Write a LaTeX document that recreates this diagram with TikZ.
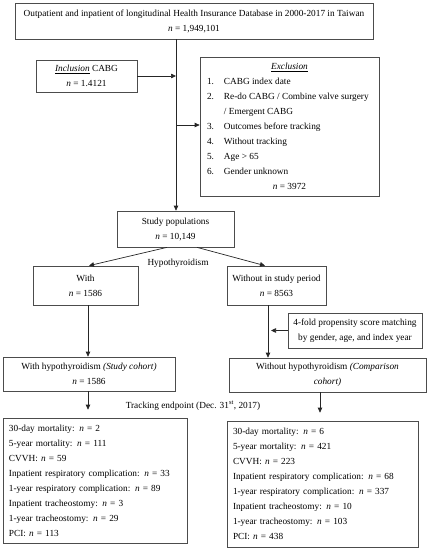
\documentclass[tikz,border=0pt]{standalone}
\usepackage{fontspec}
\setmainfont{Liberation Serif}
\usetikzlibrary{arrows.meta}
\begin{document}
\begin{tikzpicture}[x=1pt,y=-1pt,
  box/.style={draw=black!70, line width=0.7pt, inner sep=0pt, align=center, font=\fontsize{9.3}{15}\selectfont},
  arr/.style={draw=black!85, line width=0.7pt, -{Triangle[length=5pt,width=4.5pt]}},
  lbl/.style={font=\fontsize{9.3}{15}\selectfont, inner sep=0pt}]
\useasboundingbox (0,0) rectangle (429,550);
% nodes
\node[box, minimum width=358pt, minimum height=36pt] (db) at (194,21)
  {Outpatient and inpatient of longitudinal Health Insurance Database in 2000-2017 in Taiwan\\ \textit{n} = 1,949,101};
\node[box, minimum width=101pt, minimum height=32pt] (inc) at (86.5,76)
  {\underline{\textit{Inclusion}} CABG\\ \textit{n} = 1.4121};
\node[box, minimum width=179pt, minimum height=139pt, inner xsep=7pt] (exc) at (289.5,126.5)
  {\begin{tabular}{@{}p{17pt}@{}p{148pt}@{}}
   \multicolumn{2}{c}{\underline{\textit{Exclusion}}}\\
   1. & \mbox{CABG index date}\\
   2. & \mbox{Re-do CABG / Combine valve surgery}\\
      & \mbox{/ Emergent CABG}\\
   3. & \mbox{Outcomes before tracking}\\
   4. & \mbox{Without tracking}\\
   5. & \mbox{Age > 65}\\
   6. & \mbox{Gender unknown}\\
   \multicolumn{2}{c}{\textit{n} = 3972}
   \end{tabular}};
\node[box, minimum width=117pt, minimum height=36pt] (sp) at (175.5,229)
  {Study populations\\ \textit{n} = 10,149};
\node[lbl] (hy) at (178,263) {Hypothyroidism};
\node[box, minimum width=105pt, minimum height=39pt] (w) at (85.5,285.5)
  {With\\ \textit{n} = 1586};
\node[box, minimum width=99pt, minimum height=39pt] (wo) at (276.5,285.5)
  {Without in study period\\ \textit{n} = 8563};
\node[box, minimum width=134pt, minimum height=35pt] (match) at (355,330.5)
  {4-fold propensity score matching\\ by gender, age, and index year};
\node[box, minimum width=172pt, minimum height=34pt] (sc) at (89,374)
  {With hypothyroidism \textit{(Study cohort)}\\ \textit{n} = 1586};
\node[box, minimum width=197pt, minimum height=34pt] (cc) at (327.5,375)
  {Without hypothyroidism \textit{(Comparison}\\ \textit{cohort)}};
\node[lbl] (tr) at (193,406) {Tracking endpoint (Dec. 31\textsuperscript{st}, 2017)};
\node[box, align=left, text width=172pt, inner xsep=6pt, minimum height=125pt] (resl) at (95,480.5)
  {30-day mortality: \textit{n} = 2\\
   5-year mortality: \textit{n} = 111\\
   CVVH: \textit{n} = 59\\
   Inpatient respiratory complication: \textit{n} = 33\\
   1-year respiratory complication: \textit{n} = 89\\
   Inpatient tracheostomy: \textit{n} = 3\\
   1-year tracheostomy: \textit{n} = 29\\
   PCI: \textit{n} = 113};
\node[box, align=left, text width=179pt, inner xsep=6pt, minimum height=126pt] (resr) at (322.5,484)
  {30-day mortality: \textit{n} = 6\\
   5-year mortality: \textit{n} = 421\\
   CVVH: \textit{n} = 223\\
   Inpatient respiratory complication: \textit{n} = 68\\
   1-year respiratory complication: \textit{n} = 337\\
   Inpatient tracheostomy: \textit{n} = 10\\
   1-year tracheostomy: \textit{n} = 103\\
   PCI: \textit{n} = 438};
% helper coordinates
\coordinate (mx) at (176,0);
\coordinate (exin) at (200,125);
\coordinate (lx) at (88,0);
\coordinate (rx) at (268,0);
\coordinate (rx2) at (320,0);
% connectors
\draw[arr] (db.south -| mx) -- (sp.north -| mx);
\draw[arr] (inc.east) -- (inc.east -| mx);
\draw[arr] (exin -| mx) -- (exc.west |- exin);
\draw[arr] ([xshift=-8.5pt]sp.south) -- ([xshift=3.5pt]w.north);
\draw[arr] ([xshift=21.5pt]sp.south) -- ([xshift=-11.5pt]wo.north);
\draw[arr] (w.south -| lx) -- (sc.north -| lx);
\draw[arr] (wo.south -| rx) -- (cc.north -| rx);
\draw[arr, shorten >=3pt] (match.west) -- (match.west -| rx);
\draw[arr, shorten >=8pt] (sc.south -| lx) -- (resl.north -| lx);
\draw[arr, shorten >=8pt] (cc.south -| rx2) -- (resr.north -| rx2);
\end{tikzpicture}
\end{document}
